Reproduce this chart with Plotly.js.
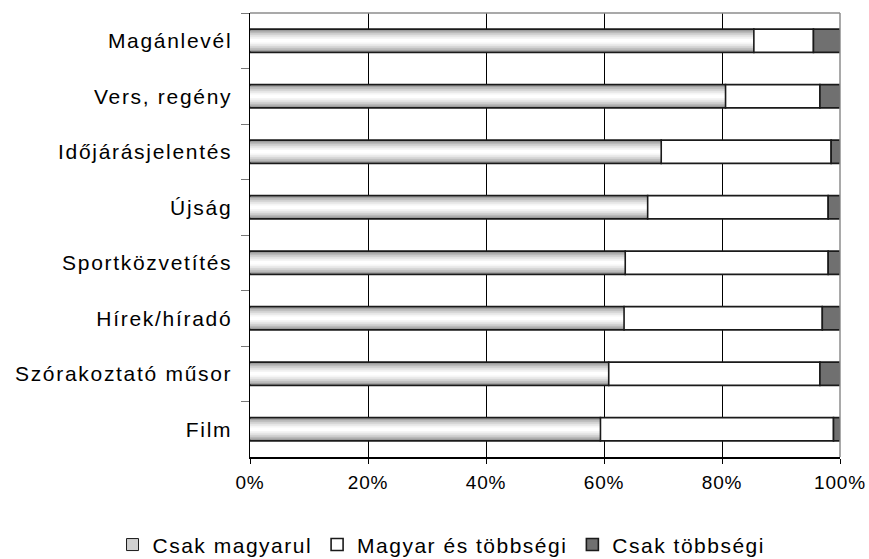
<!DOCTYPE html>
<html>
<head>
<meta charset="utf-8">
<script src="https://cdn.plot.ly/plotly-3.0.1.min.js"></script>
<style>
html,body{margin:0;padding:0;background:#fff;}
#chart{width:869px;height:559px;}
#chart .ytick text{letter-spacing:1.7px;}
#chart .xtick text{letter-spacing:0.8px;}
.legendtext{letter-spacing:1.5px;}
</style>
</head>
<body>
<div id="chart"></div>
<script>
// Data (top to bottom)
const categories = ['Magánlevél','Vers, regény','Időjárásjelentés','Újság','Sportközvetítés','Hírek/híradó','Szórakoztató műsor','Film'];
const csakMagyarul = [85.4, 80.6, 69.7, 67.4, 63.6, 63.4, 60.8, 59.4];
const magyarEsTobbsegi = [10.1, 16.0, 28.8, 30.6, 34.4, 33.6, 35.8, 39.5];
const csakTobbsegi = [4.5, 3.4, 1.5, 2.0, 2.0, 3.0, 3.4, 1.1];
const seriesNames = ['Csak magyarul', 'Magyar és többségi', 'Csak többségi'];
const xTickVals = [0, 20, 40, 60, 80, 100];

const FONT = 'Liberation Sans, Arial, sans-serif';
const BW = 0.42;
const edge = '#1a1a1a';

const base2 = csakMagyarul.slice();
const base3 = csakMagyarul.map((v, i) => v + magyarEsTobbsegi[i]);

const traces = [];
// legend carrier for first series (hidden beneath gradient layers)
traces.push({
  type: 'bar', orientation: 'h', y: categories, x: csakMagyarul, base: 0,
  width: 0.001, name: seriesNames[0], showlegend: true,
  marker: {color: '#d0d0d0', line: {color: edge, width: 1}}, hoverinfo: 'skip'
});
// gradient layers of first series
const layers = [
  [BW, '#8a8a8a', 1.6],
  [0.38, '#a2a2a2', 0],
  [0.33, '#bababa', 0],
  [0.27, '#d2d2d2', 0],
  [0.20, '#e6e6e6', 0],
  [0.13, '#f5f5f5', 0],
  [0.06, '#ffffff', 0]
];
layers.forEach(([w, c, lw]) => {
  traces.push({
    type: 'bar', orientation: 'h', y: categories, x: csakMagyarul, base: 0,
    width: w, showlegend: false, name: seriesNames[0],
    marker: {color: c, line: {color: edge, width: lw}}
  });
});
traces.push({
  type: 'bar', orientation: 'h', y: categories, x: magyarEsTobbsegi, base: base2,
  width: BW, name: seriesNames[1], showlegend: true,
  marker: {color: '#ffffff', line: {color: edge, width: 1.6}}
});
traces.push({
  type: 'bar', orientation: 'h', y: categories, x: csakTobbsegi, base: base3,
  width: BW, name: seriesNames[2], showlegend: true,
  marker: {color: '#707070', line: {color: edge, width: 1.6}}
});

const layout = {
  width: 869, height: 559,
  margin: {l: 250, r: 29, t: 13, b: 102, autoexpand: false},
  paper_bgcolor: '#fff', plot_bgcolor: '#fff',
  barmode: 'overlay',
  showlegend: true,
  font: {family: FONT, color: '#000', size: 19},
  xaxis: {
    range: [0, 100], tickvals: xTickVals, ticktext: xTickVals.map(v => v + '%'),
    showgrid: true, gridcolor: '#000', gridwidth: 1, zeroline: false,
    showline: true, linecolor: '#000', linewidth: 1.5,
    ticks: 'outside', ticklen: 5, tickcolor: '#000', tickwidth: 1,
    ticklabelstandoff: 3,
    tickfont: {family: FONT, size: 19, color: '#000'}, fixedrange: true
  },
  yaxis: {
    type: 'category', autorange: 'reversed',
    showline: true, linecolor: '#000', linewidth: 1.5,
    ticks: 'outside', tickson: 'boundaries', ticklen: 8, tickcolor: '#777', tickwidth: 1,
    showgrid: false, ticklabelstandoff: 12,
    tickfont: {family: FONT, size: 21, color: '#000'}, fixedrange: true
  },
  shapes: [
    {type: 'line', xref: 'paper', yref: 'paper', x0: 0, x1: 1, y0: 1, y1: 1, line: {color: '#8c8c8c', width: 1.5}, layer: 'above'},
    {type: 'line', xref: 'paper', yref: 'paper', x0: 1, x1: 1, y0: 0, y1: 1, line: {color: '#8c8c8c', width: 1.5}, layer: 'above'}
  ],
  legend: {
    orientation: 'h',
    x: -0.233, xanchor: 'left', y: -0.198, yanchor: 'middle',
    font: {family: FONT, size: 21, color: '#000'},
    itemwidth: 30, tracegroupgap: 0, bgcolor: 'rgba(0,0,0,0)'
  }
};

Plotly.newPlot('chart', traces, layout, {staticPlot: true, displayModeBar: false});
</script>
</body>
</html>
